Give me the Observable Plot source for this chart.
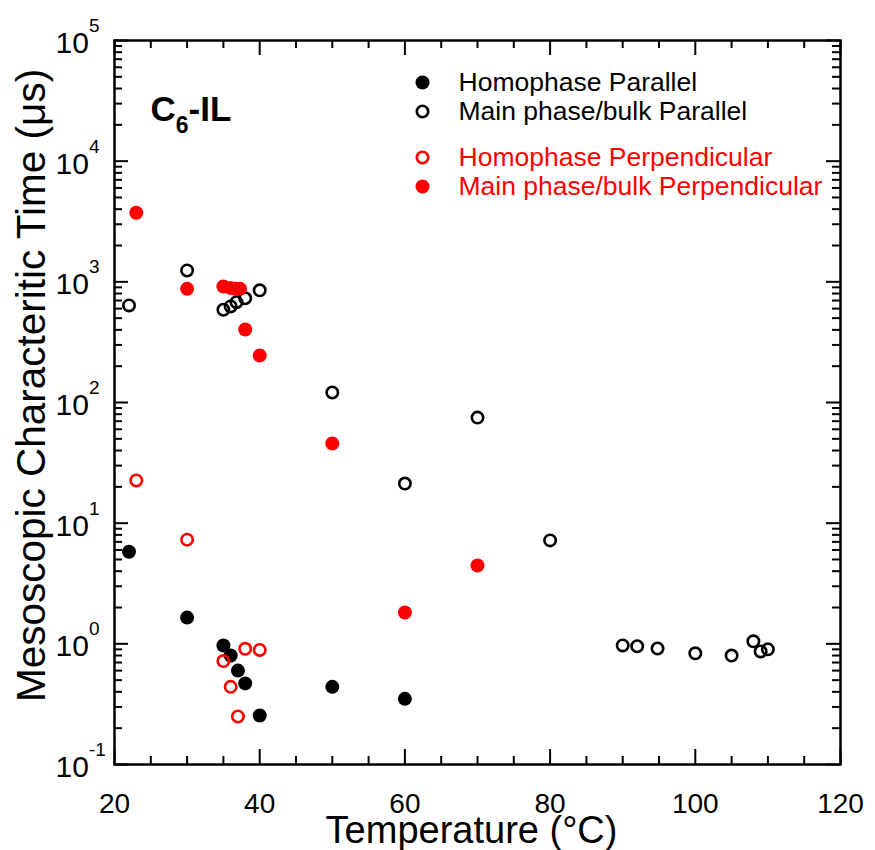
<!DOCTYPE html>
<html><head><meta charset="utf-8">
<script src="https://cdn.jsdelivr.net/npm/d3@7"></script>
<script src="https://cdn.jsdelivr.net/npm/@observablehq/plot@0.6"></script>
<style>body{margin:0;background:#fff}#chart{width:875px;height:850px}</style>
</head><body><div id="chart"></div>
<script>
// ---- data ----
const tempHomPar = [22, 30, 35, 36, 37, 38, 40, 50, 60];
const tauHomPar  = [5.8, 1.65, 0.97, 0.80, 0.60, 0.47, 0.255, 0.44, 0.35];

const tempMainPar = [22, 30, 35, 36, 36.8, 38, 40, 50, 60, 70, 80, 90, 92, 94.8, 100, 105, 108, 109, 110];
const tauMainPar  = [637, 1242, 587, 625, 678, 731, 851, 121, 21.3, 75, 7.2, 0.97, 0.955, 0.915, 0.835, 0.80, 1.05, 0.865, 0.90];

const tempHomPerp = [23, 30, 35, 36, 37, 38, 40];
const tauHomPerp  = [22.6, 7.3, 0.72, 0.44, 0.25, 0.91, 0.89];

const tempMainPerp = [23, 30, 35, 36, 36.7, 37.3, 38, 40, 50, 60, 70];
const tauMainPerp  = [3735, 875, 915, 890, 875, 875, 403, 245, 45.7, 1.82, 4.46];

const xMajorTicks = [20, 40, 60, 80, 100, 120];
const xMinorTicks = [25, 30, 35, 45, 50, 55, 65, 70, 75, 85, 90, 95, 105, 110, 115];
const yMajorTicks = [0.1, 1, 10, 100, 1000, 10000, 100000];
const yMinorFactors = [2, 3, 4, 5, 6, 7, 8, 9];

const legendLabels = ["Homophase Parallel", "Main phase/bulk Parallel", "Homophase Perpendicular", "Main phase/bulk Perpendicular"];
const legendColors = ["black", "black", "red", "red"];
const legendFilled = [true, false, false, true];

const xTitle = "Temperature (°C)";
const yTitle = "Mesoscopic Characteritic Time (μs)";
const sampleLabel = "C_6-IL";

// ---- build ----
const W = 875, H = 850, mL = 114, mR = 35, mT = 40, mB = 86;
const plotW = W - mL - mR, plotH = H - mT - mB;
const yMinorTicks = yMajorTicks.slice(0, -1).flatMap(d => yMinorFactors.map(f => d * f));
const zip = (xs, ys) => xs.map((x, i) => ({x, y: ys[i]}));
const font = "'Liberation Sans', Arial, Helvetica, sans-serif";
const tickW = 2;

const marks = [
  Plot.frame({stroke: "black", strokeWidth: 2.5}),
  // x ticks (inward), bottom and top
  Plot.tickX(xMajorTicks, {x: d => d, insetTop: plotH - 15, stroke: "black", strokeWidth: tickW}),
  Plot.tickX(xMinorTicks, {x: d => d, insetTop: plotH - 8, stroke: "black", strokeWidth: tickW}),
  Plot.tickX(xMajorTicks, {x: d => d, insetBottom: plotH - 15, stroke: "black", strokeWidth: tickW}),
  Plot.tickX(xMinorTicks, {x: d => d, insetBottom: plotH - 8, stroke: "black", strokeWidth: tickW}),
  // y ticks (inward), left and right
  Plot.tickY(yMajorTicks, {y: d => d, insetRight: plotW - 14, stroke: "black", strokeWidth: tickW}),
  Plot.tickY(yMinorTicks, {y: d => d, insetRight: plotW - 8, stroke: "black", strokeWidth: tickW}),
  Plot.tickY(yMajorTicks, {y: d => d, insetLeft: plotW - 14, stroke: "black", strokeWidth: tickW}),
  Plot.tickY(yMinorTicks, {y: d => d, insetLeft: plotW - 8, stroke: "black", strokeWidth: tickW}),
  // x tick labels
  Plot.axisX(xMajorTicks, {tickSize: 0, tickPadding: 29, fontSize: 28, fill: "black", label: null}),
  // y tick labels (10^n, superscript added after render)
  Plot.text(yMajorTicks, {y: d => d, frameAnchor: "left", dx: -59, dy: 3, textAnchor: "start", lineAnchor: "middle",
    text: d => "10^" + Math.round(Math.log10(d)), fontSize: 30, fill: "black"}),
  // titles
  Plot.text([xTitle], {frameAnchor: "bottom", dx: -6, dy: 78, textAnchor: "middle", lineAnchor: "bottom", fontSize: 38, fill: "black"}),
  Plot.text([yTitle], {frameAnchor: "left", dx: -82, dy: -17, rotate: -90, textAnchor: "middle", lineAnchor: "middle", fontSize: 40.5, fill: "black"}),
  // C6-IL label
  Plot.text([sampleLabel], {frameAnchor: "top-left", dx: 36, dy: 80, textAnchor: "start", lineAnchor: "bottom",
    fontSize: 35, fontWeight: "bold", fill: "black"}),
  // data
  Plot.dot(zip(tempHomPar, tauHomPar), {x: "x", y: "y", r: 7, fill: "black", stroke: "none"}),
  Plot.dot(zip(tempMainPar, tauMainPar), {x: "x", y: "y", r: 5.7, fill: "none", stroke: "black", strokeWidth: 2.6}),
  Plot.dot(zip(tempHomPerp, tauHomPerp), {x: "x", y: "y", r: 5.7, fill: "none", stroke: "red", strokeWidth: 2.6}),
  Plot.dot(zip(tempMainPerp, tauMainPerp), {x: "x", y: "y", r: 7, fill: "red", stroke: "none"}),
];

// legend (inside frame)
const legendDy = [42, 71, 117, 146];
legendLabels.forEach((lab, i) => {
  marks.push(Plot.dot([lab], legendFilled[i]
    ? {frameAnchor: "top-left", dx: 308, dy: legendDy[i], r: 7, fill: legendColors[i], stroke: "none"}
    : {frameAnchor: "top-left", dx: 308, dy: legendDy[i], r: 5.7, fill: "none", stroke: legendColors[i], strokeWidth: 2.6}));
  marks.push(Plot.text([lab], {frameAnchor: "top-left", dx: 344, dy: legendDy[i], textAnchor: "start", lineAnchor: "middle",
    fontSize: 26.5, fill: legendColors[i], text: d => d}));
});

const chart = Plot.plot({
  width: W, height: H,
  marginLeft: mL, marginRight: mR, marginTop: mT, marginBottom: mB,
  style: {fontFamily: font, background: "white", overflow: "visible"},
  x: {domain: [20, 120], axis: null},
  y: {type: "log", domain: [0.1, 100000], axis: null},
  marks
});
document.getElementById("chart").appendChild(chart);

// superscripts / subscripts (texts stay real text)
const NS = "http://www.w3.org/2000/svg";
chart.querySelectorAll("text").forEach(t => {
  const s = t.textContent;
  let m = s.match(/^10\^(-?\d+)$/);
  if (m) {
    t.textContent = "10";
    const sup = document.createElementNS(NS, "tspan");
    sup.setAttribute("font-size", "19");
    sup.setAttribute("dy", "-21");
    sup.textContent = m[1];
    t.appendChild(sup);
    return;
  }
  m = s.match(/^(\w)_(\d)(.*)$/);
  if (m) {
    t.textContent = m[1];
    const sub = document.createElementNS(NS, "tspan");
    sub.setAttribute("font-size", "23");
    sub.setAttribute("dy", "12");
    sub.textContent = m[2];
    const rest = document.createElementNS(NS, "tspan");
    rest.setAttribute("dy", "-12");
    rest.textContent = m[3];
    t.appendChild(sub); t.appendChild(rest);
  }
});
</script>
</body></html>
